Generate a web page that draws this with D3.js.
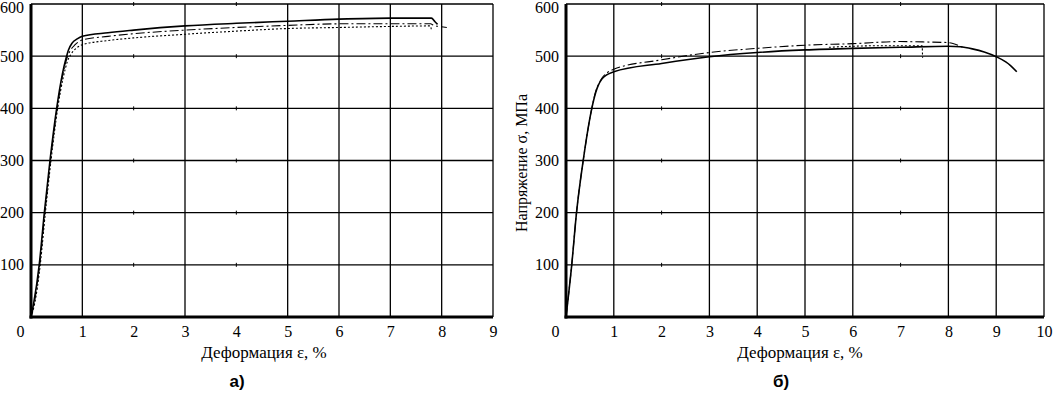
<!DOCTYPE html>
<html>
<head>
<meta charset="utf-8">
<script src="https://cdn.jsdelivr.net/npm/d3@7"></script>
<style>
  body { margin: 0; background: #fff; }
  svg { display: block; }
</style>
</head>
<body>
<div id="chart"></div>
<script>
// ---- data: [strain %, stress MPa] ----
const stressTicks = [100, 200, 300, 400, 500, 600];
const strainTicksA = [0, 1, 2, 3, 4, 5, 6, 7, 8, 9];
const strainTicksB = [0, 1, 2, 3, 4, 5, 6, 7, 8, 9, 10];
const gridXA = [1, 3, 5, 6, 7, 8, 9];
const gridXB = [1, 3, 4, 5, 6, 8, 9, 10];
const missingXA = [2, 4];
const missingXB = [2, 7];

const solidA = [[0,0],[0.05,25],[0.16,100],[0.26,200],[0.37,300],[0.5,400],[0.61,465],[0.68,495],[0.73,512],
  [0.8,525],[0.9,533],[1,538],[1.5,545],[2,550],[3,558],[4,563],[5,567],[6,571],[7,573],[7.8,573],[7.87,566],[7.92,561]];
const dashDotA = [[0,0],[0.06,25],[0.17,100],[0.27,200],[0.38,300],[0.51,400],[0.62,465],[0.7,496],[0.76,510],
  [0.86,522],[1,531],[1.5,538],[2,543],[3,550],[4,555],[5,559],[6,562],[7,562],[7.78,562],[7.85,559],[7.95,557],[8.1,555]];
const dottedA = [[0,0],[0.07,25],[0.18,100],[0.28,200],[0.39,300],[0.52,400],[0.63,460],[0.71,490],[0.78,504],
  [0.88,515],[1,522],[1.5,530],[2,535],[3,542],[4,548],[5,553],[6,555],[7,557],[7.78,558],[7.8,550]];

const solidB = [[0,0],[0.12,100],[0.22,200],[0.36,300],[0.54,400],[0.62,430],[0.67,443],[0.75,456],[0.85,464],
  [1,470],[2,486],[3,499],[4,507],[5,512],[6,515],[7,517],[8,519],[8.25,518],[8.5,514],[8.75,508],[9,499],[9.2,489],[9.3,482],[9.43,470]];
const dashDotB = [[0,0],[0.12,100],[0.22,200],[0.36,300],[0.54,400],[0.62,432],[0.68,446],[0.76,459],[0.86,468],
  [1,475],[2,493],[3,507],[4,515],[5,521],[6,524],[7,528],[7.6,527],[8,526],[8.2,521],[8.3,517]];
const dottedB = [[5.5,517],[6,519],[6.5,520],[7,520],[7.45,520],[7.46,497]];

const W = 1053, H = 393;
const serif = "'Liberation Serif', 'DejaVu Serif', serif";
const svg = d3.select("#chart").append("svg")
  .attr("width", W).attr("height", H)
  .style("background", "#fff");

function drawPanel(cfg) {
  const x = d3.scaleLinear().domain([0, cfg.xMax]).range([cfg.left, cfg.right]);
  const y = d3.scaleLinear().domain([0, 600]).range([317, 4]);
  const g = svg.append("g");

  // horizontal grid
  g.selectAll(".hgrid").data(stressTicks).join("line")
    .attr("x1", x(0)).attr("x2", x(cfg.xMax))
    .attr("y1", d => y(d)).attr("y2", d => y(d))
    .attr("stroke", "#000").attr("stroke-width", 1.3);

  // vertical grid
  g.selectAll(".vgrid").data(cfg.gridX).join("line")
    .attr("x1", d => x(d)).attr("x2", d => x(d))
    .attr("y1", y(0)).attr("y2", y(600))
    .attr("stroke", "#000").attr("stroke-width", 1.3);

  // little marks where a vertical grid line is missing
  const marks = [];
  cfg.missingX.forEach(mx => stressTicks.forEach(s => marks.push([mx, s])));
  g.selectAll(".mark").data(marks).join("line")
    .attr("x1", d => x(d[0])).attr("x2", d => x(d[0]))
    .attr("y1", d => y(d[1]) - 2).attr("y2", d => y(d[1]) + 2)
    .attr("stroke", "#000").attr("stroke-width", 1);

  // curves
  const line = d3.line()
    .x(d => x(d[0])).y(d => y(d[1]))
    .curve(d3.curveMonotoneX);
  cfg.series.forEach(s => {
    g.append("path").datum(s.data)
      .attr("d", line)
      .attr("fill", "none")
      .attr("stroke", "#000")
      .attr("stroke-width", s.width)
      .attr("stroke-dasharray", s.dash);
  });

  // thick axes
  g.append("line").attr("x1", x(0)).attr("x2", x(0)).attr("y1", y(0) + 1.5).attr("y2", y(600))
    .attr("stroke", "#000").attr("stroke-width", 3);
  g.append("line").attr("x1", x(0) - 1.5).attr("x2", x(cfg.xMax)).attr("y1", y(0)).attr("y2", y(0))
    .attr("stroke", "#000").attr("stroke-width", 3);

  // tick labels
  const ya = g.append("g")
    .attr("transform", `translate(${x(0) - 1}, 0)`)
    .call(d3.axisLeft(y).tickValues(stressTicks).tickSize(0).tickPadding(6));
  ya.select(".domain").remove();
  ya.selectAll("text")
    .style("font-family", serif).style("font-size", "16px").attr("fill", "#000");
  ya.selectAll(".tick").filter(d => d === 600).select("text").attr("dy", "0.55em");

  const xa = g.append("g")
    .attr("transform", `translate(0, ${y(0) + 3})`)
    .call(d3.axisBottom(x).tickValues(cfg.xTicks).tickSize(0).tickPadding(6).tickFormat(d3.format("d")));
  xa.select(".domain").remove();
  xa.selectAll("text")
    .style("font-family", serif).style("font-size", "16px").attr("fill", "#000");
  xa.selectAll(".tick").filter(d => d === 0).select("text").attr("dx", -11);

  // axis title
  g.append("text")
    .attr("x", cfg.titleX).attr("y", 358)
    .attr("text-anchor", "middle")
    .style("font-family", serif)
    .style("font-size", "17px")
    .text("Деформация ε, %");

  // panel letter
  g.append("text")
    .attr("x", cfg.letterX).attr("y", 387)
    .attr("text-anchor", "middle")
    .style("font-family", "'Liberation Sans', Arial, sans-serif")
    .style("font-weight", "bold")
    .style("font-size", "17px")
    .text(cfg.letter);

  if (cfg.yTitle) {
    g.append("text")
      .attr("transform", `translate(${cfg.yTitleX}, 163) rotate(-90)`)
      .attr("text-anchor", "middle")
      .attr("dominant-baseline", "central")
      .style("font-family", serif)
      .style("font-size", "16px")
      .text(cfg.yTitle);
  }
}

drawPanel({
  left: 31, right: 493, xMax: 9,
  xTicks: strainTicksA, gridX: gridXA, missingX: missingXA,
  titleX: 264, letterX: 237, letter: "а)",
  series: [
    { data: solidA, width: 1.6, dash: null },
    { data: dashDotA, width: 1.1, dash: "9,3,2,3" },
    { data: dottedA, width: 1.1, dash: "2,2" }
  ]
});

drawPanel({
  left: 566, right: 1044, xMax: 10,
  xTicks: strainTicksB, gridX: gridXB, missingX: missingXB,
  titleX: 800, letterX: 781, letter: "б)",
  yTitle: "Напряжение σ, МПа", yTitleX: 521,
  series: [
    { data: solidB, width: 1.6, dash: null },
    { data: dashDotB, width: 1.1, dash: "9,3,2,3" },
    { data: dottedB, width: 1.1, dash: "2,2" }
  ]
});
</script>
</body>
</html>
